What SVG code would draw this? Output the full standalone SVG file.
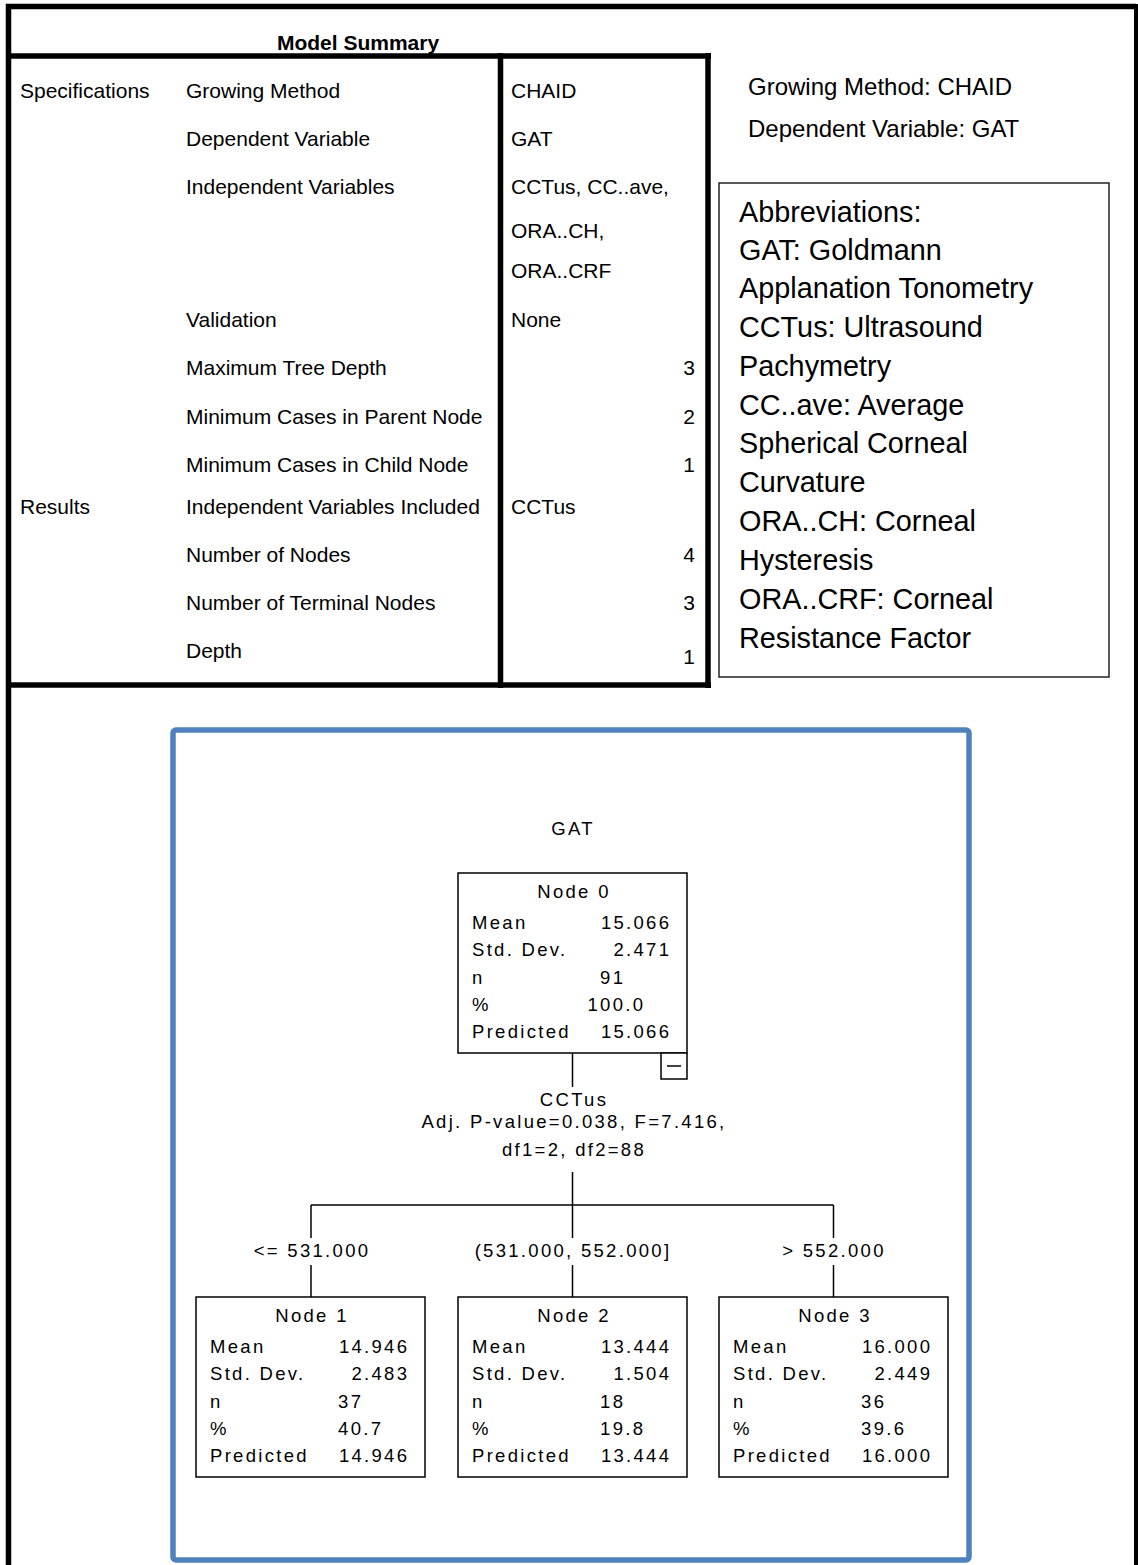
<svg xmlns="http://www.w3.org/2000/svg" width="1138" height="1565" viewBox="0 0 1138 1565">
<style>
.tb{font-family:"Liberation Sans",Arial,sans-serif;font-size:21px;fill:#000}
.tbb{font-family:"Liberation Sans",Arial,sans-serif;font-size:21px;font-weight:bold;fill:#000}
.rt{font-family:"Liberation Sans",Arial,sans-serif;font-size:24px;fill:#000}
.ab{font-family:"Liberation Sans",Arial,sans-serif;font-size:28.8px;fill:#000}
.t{font-family:"Liberation Sans",Arial,sans-serif;font-size:18.5px;letter-spacing:2.3px;fill:#000}
.e{text-anchor:end}
.m{text-anchor:middle}
.thick{stroke:#000;stroke-width:5.5;fill:none}
.box{fill:#fff;stroke:#000;stroke-width:1.5}
.ln{stroke:#000;stroke-width:1.5;fill:none}
</style>
<rect width="1138" height="1565" fill="#fff"/>
<!-- outer frame -->
<g id="frame">
<path d="M8.5,1565 V6.5 H1136" class="thick" stroke-width="5"/>
<line x1="1136" y1="4" x2="1136" y2="1565" stroke="#000" stroke-width="4"/>
</g>
<!-- model summary table -->
<g id="model-summary">
<text class="tbb m" x="358" y="50">Model Summary</text>
<line x1="8" y1="56" x2="711" y2="56" class="thick"/>
<line x1="500.5" y1="53" x2="500.5" y2="688" class="thick"/>
<line x1="708" y1="53" x2="708" y2="688" class="thick"/>
<line x1="8" y1="685" x2="711" y2="685" class="thick"/>
<text class="tb" x="20" y="98">Specifications</text>
<text class="tb" x="20" y="514">Results</text>
<text class="tb" x="186" y="98">Growing Method</text>
<text class="tb" x="186" y="146">Dependent Variable</text>
<text class="tb" x="186" y="194">Independent Variables</text>
<text class="tb" x="186" y="327">Validation</text>
<text class="tb" x="186" y="375">Maximum Tree Depth</text>
<text class="tb" x="186" y="424">Minimum Cases in Parent Node</text>
<text class="tb" x="186" y="472">Minimum Cases in Child Node</text>
<text class="tb" x="186" y="514">Independent Variables Included</text>
<text class="tb" x="186" y="562">Number of Nodes</text>
<text class="tb" x="186" y="610">Number of Terminal Nodes</text>
<text class="tb" x="186" y="658">Depth</text>
<text class="tb" x="511" y="98">CHAID</text>
<text class="tb" x="511" y="146">GAT</text>
<text class="tb" x="511" y="194">CCTus, CC..ave,</text>
<text class="tb" x="511" y="238">ORA..CH,</text>
<text class="tb" x="511" y="278">ORA..CRF</text>
<text class="tb" x="511" y="327">None</text>
<text class="tb e" x="695" y="375">3</text>
<text class="tb e" x="695" y="424">2</text>
<text class="tb e" x="695" y="472">1</text>
<text class="tb" x="511" y="514">CCTus</text>
<text class="tb e" x="695" y="562">4</text>
<text class="tb e" x="695" y="610">3</text>
<text class="tb e" x="695" y="664">1</text>
</g>
<g id="model-info">
<text class="rt" x="748" y="95">Growing Method: CHAID</text>
<text class="rt" x="748" y="137">Dependent Variable: GAT</text>
</g>
<g id="abbreviations">
<rect x="719" y="183" width="390" height="494" fill="#fff" stroke="#222" stroke-width="1.5"/>
<text class="ab" x="739" y="222">Abbreviations:</text>
<text class="ab" x="739" y="260">GAT: Goldmann</text>
<text class="ab" x="739" y="298">Applanation Tonometry</text>
<text class="ab" x="739" y="337">CCTus: Ultrasound</text>
<text class="ab" x="739" y="376">Pachymetry</text>
<text class="ab" x="739" y="415">CC..ave: Average</text>
<text class="ab" x="739" y="453">Spherical Corneal</text>
<text class="ab" x="739" y="492">Curvature</text>
<text class="ab" x="739" y="531">ORA..CH: Corneal</text>
<text class="ab" x="739" y="570">Hysteresis</text>
<text class="ab" x="739" y="609">ORA..CRF: Corneal</text>
<text class="ab" x="739" y="648">Resistance Factor</text>
</g>
<!-- tree panel -->
<g id="tree-panel">
<rect x="173" y="730" width="796" height="830" rx="3" fill="#fff" stroke="#4F81BD" stroke-width="5.5"/>
<text class="t m" x="573" y="835">GAT</text>
</g>
<g id="connectors">
<line x1="572.5" y1="1053" x2="572.5" y2="1087" class="ln"/>
<line x1="572.5" y1="1172" x2="572.5" y2="1238" class="ln"/>
<line x1="311" y1="1205" x2="833.5" y2="1205" class="ln"/>
<line x1="311" y1="1205" x2="311" y2="1238" class="ln"/>
<line x1="833.5" y1="1205" x2="833.5" y2="1238" class="ln"/>
<line x1="311" y1="1265" x2="311" y2="1297" class="ln"/>
<line x1="572.5" y1="1265" x2="572.5" y2="1297" class="ln"/>
<line x1="833.5" y1="1265" x2="833.5" y2="1297" class="ln"/>
<text class="t m" x="574" y="1106">CCTus</text>
<text class="t m" x="574" y="1128">Adj. P-value=0.038, F=7.416,</text>
<text class="t m" x="574" y="1156">df1=2, df2=88</text>
<text class="t m" x="312" y="1257">&lt;= 531.000</text>
<text class="t m" x="573" y="1257">(531.000, 552.000]</text>
<text class="t m" x="834" y="1257">&gt; 552.000</text>
</g>
<g id="node0">
<rect x="458" y="873" width="229" height="180" class="box"/>
<text class="t m" x="574" y="898">Node 0</text>
<text class="t" x="472" y="929">Mean</text>
<text class="t" x="472" y="956">Std. Dev.</text>
<text class="t" x="472" y="984">n</text>
<text class="t" x="472" y="1011">%</text>
<text class="t" x="472" y="1038">Predicted</text>
<text class="t e" x="671.3" y="929">15.066</text>
<text class="t e" x="671.3" y="956">2.471</text>
<text class="t e" x="625.3" y="984">91</text>
<text class="t e" x="645.3" y="1011">100.0</text>
<text class="t e" x="671.3" y="1038">15.066</text>
<rect x="661" y="1053" width="26" height="26" class="box"/>
<line x1="667" y1="1066" x2="681" y2="1066" class="ln"/>
</g>
<g id="node1">
<rect x="196" y="1297" width="229" height="180" class="box"/>
<text class="t m" x="312" y="1322">Node 1</text>
<text class="t" x="210" y="1353">Mean</text>
<text class="t" x="210" y="1380">Std. Dev.</text>
<text class="t" x="210" y="1408">n</text>
<text class="t" x="210" y="1435">%</text>
<text class="t" x="210" y="1462">Predicted</text>
<text class="t e" x="409.3" y="1353">14.946</text>
<text class="t e" x="409.3" y="1380">2.483</text>
<text class="t e" x="363.3" y="1408">37</text>
<text class="t e" x="383.3" y="1435">40.7</text>
<text class="t e" x="409.3" y="1462">14.946</text>
</g>
<g id="node2">
<rect x="458" y="1297" width="229" height="180" class="box"/>
<text class="t m" x="574" y="1322">Node 2</text>
<text class="t" x="472" y="1353">Mean</text>
<text class="t" x="472" y="1380">Std. Dev.</text>
<text class="t" x="472" y="1408">n</text>
<text class="t" x="472" y="1435">%</text>
<text class="t" x="472" y="1462">Predicted</text>
<text class="t e" x="671.3" y="1353">13.444</text>
<text class="t e" x="671.3" y="1380">1.504</text>
<text class="t e" x="625.3" y="1408">18</text>
<text class="t e" x="645.3" y="1435">19.8</text>
<text class="t e" x="671.3" y="1462">13.444</text>
</g>
<g id="node3">
<rect x="719" y="1297" width="229" height="180" class="box"/>
<text class="t m" x="835" y="1322">Node 3</text>
<text class="t" x="733" y="1353">Mean</text>
<text class="t" x="733" y="1380">Std. Dev.</text>
<text class="t" x="733" y="1408">n</text>
<text class="t" x="733" y="1435">%</text>
<text class="t" x="733" y="1462">Predicted</text>
<text class="t e" x="932.3" y="1353">16.000</text>
<text class="t e" x="932.3" y="1380">2.449</text>
<text class="t e" x="886.3" y="1408">36</text>
<text class="t e" x="906.3" y="1435">39.6</text>
<text class="t e" x="932.3" y="1462">16.000</text>
</g>
</svg>
